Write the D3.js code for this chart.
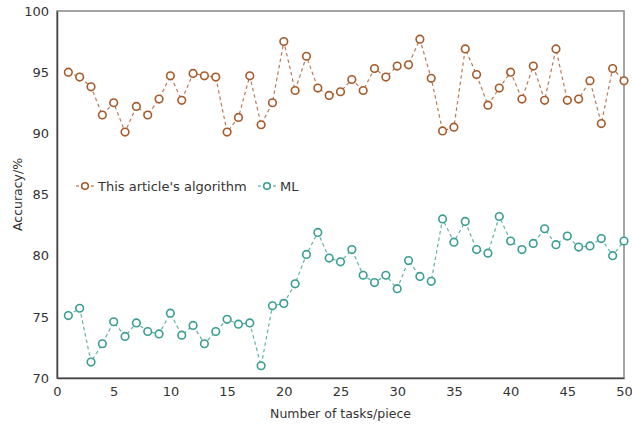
<!DOCTYPE html>
<html>
<head>
<meta charset="utf-8">
<script src="https://cdn.jsdelivr.net/npm/d3@7"></script>
<style>
  body { margin: 0; background: #fff; }
  text { font-family: "DejaVu Sans", Verdana, sans-serif; fill: #333; }
</style>
</head>
<body>
<script>
// accuracy per task count
var tasks = d3.range(1, 51);
var ours = [95.0, 94.6, 93.8, 91.5, 92.5, 90.1, 92.2, 91.5, 92.8, 94.7,
            92.7, 94.9, 94.7, 94.6, 90.1, 91.3, 94.7, 90.7, 92.5, 97.5,
            93.5, 96.3, 93.7, 93.1, 93.4, 94.4, 93.5, 95.3, 94.6, 95.5,
            95.6, 97.7, 94.5, 90.2, 90.5, 96.9, 94.8, 92.3, 93.7, 95.0,
            92.8, 95.5, 92.7, 96.9, 92.7, 92.8, 94.3, 90.8, 95.3, 94.3];
var ml = [75.1, 75.7, 71.3, 72.8, 74.6, 73.4, 74.5, 73.8, 73.6, 75.3,
          73.5, 74.3, 72.8, 73.8, 74.8, 74.4, 74.5, 71.0, 75.9, 76.1,
          77.7, 80.1, 81.9, 79.8, 79.5, 80.5, 78.4, 77.8, 78.4, 77.3,
          79.6, 78.3, 77.9, 83.0, 81.1, 82.8, 80.5, 80.2, 83.2, 81.2,
          80.5, 81.0, 82.2, 80.9, 81.6, 80.7, 80.8, 81.4, 80.0, 81.2];
var xTicks = [0, 5, 10, 15, 20, 25, 30, 35, 40, 45, 50];
var yTicks = [70, 75, 80, 85, 90, 95, 100];
var seriesNames = ["This article's algorithm", "ML"];
var colors = ["#a65a2a", "#3a9e92"];

var width = 632, height = 424;
var margin = {top: 11, right: 8, bottom: 46, left: 57};

var svg = d3.select("body").append("svg")
    .attr("width", width).attr("height", height);

var x = d3.scaleLinear().domain([0, 50]).range([margin.left, width - margin.right]);
var y = d3.scaleLinear().domain([70, 100]).range([height - margin.bottom, margin.top]);

// frame
svg.append("rect")
    .attr("x", x(0)).attr("y", y(100))
    .attr("width", x(50) - x(0)).attr("height", y(70) - y(100))
    .attr("fill", "none").attr("stroke", "#888").attr("stroke-width", 1.5);

var xAxis = svg.append("g")
    .attr("transform", "translate(0," + y(70) + ")")
    .call(d3.axisBottom(x).tickValues(xTicks).tickSize(0).tickPadding(9));
xAxis.select(".domain").attr("stroke", "#444").attr("stroke-width", 1.5);
xAxis.selectAll("text").style("font-size", "13px").attr("fill", "#333");

var yAxis = svg.append("g")
    .attr("transform", "translate(" + x(0) + ",0)")
    .call(d3.axisLeft(y).tickValues(yTicks).tickSize(0).tickPadding(8));
yAxis.select(".domain").attr("stroke", "#444").attr("stroke-width", 1.5);
yAxis.selectAll("text").style("font-size", "13px").attr("fill", "#333");

svg.append("text")
    .attr("x", x(25)).attr("y", 418)
    .attr("text-anchor", "middle")
    .style("font-size", "12.5px")
    .text("Number of tasks/piece");

svg.append("text")
    .attr("transform", "translate(22," + ((y(70) + y(100)) / 2) + ") rotate(-90)")
    .attr("text-anchor", "middle")
    .style("font-size", "12.5px")
    .text("Accuracy/%");

var line = d3.line()
    .x(function(d) { return x(d[0]); })
    .y(function(d) { return y(d[1]); });

[ours, ml].forEach(function(vals, k) {
  var pts = tasks.map(function(t, i) { return [t, vals[i]]; });
  svg.append("path")
      .datum(pts)
      .attr("d", line)
      .attr("fill", "none")
      .attr("stroke", colors[k])
      .attr("stroke-opacity", 0.8)
      .attr("stroke-width", 1.2)
      .attr("stroke-dasharray", "3.5,3");
  svg.selectAll(".pt" + k)
      .data(pts)
      .enter().append("circle")
      .attr("cx", function(d) { return x(d[0]); })
      .attr("cy", function(d) { return y(d[1]); })
      .attr("r", 3.8)
      .attr("fill", "#fff")
      .attr("stroke", colors[k])
      .attr("stroke-width", 1.6);
});

// legend
var lx = [76, 258];
seriesNames.forEach(function(name, k) {
  var g = svg.append("g").attr("transform", "translate(" + lx[k] + ",186)");
  g.append("line")
      .attr("x1", 0).attr("x2", 18)
      .attr("stroke", colors[k]).attr("stroke-width", 1.2)
      .attr("stroke-dasharray", "3,12,3");
  g.append("circle")
      .attr("cx", 9).attr("cy", 0).attr("r", 3.3)
      .attr("fill", "#fff").attr("stroke", colors[k]).attr("stroke-width", 1.6);
  g.append("text")
      .attr("x", 22).attr("y", 4.5)
      .style("font-size", "13px")
      .text(name);
});
</script>
</body>
</html>
